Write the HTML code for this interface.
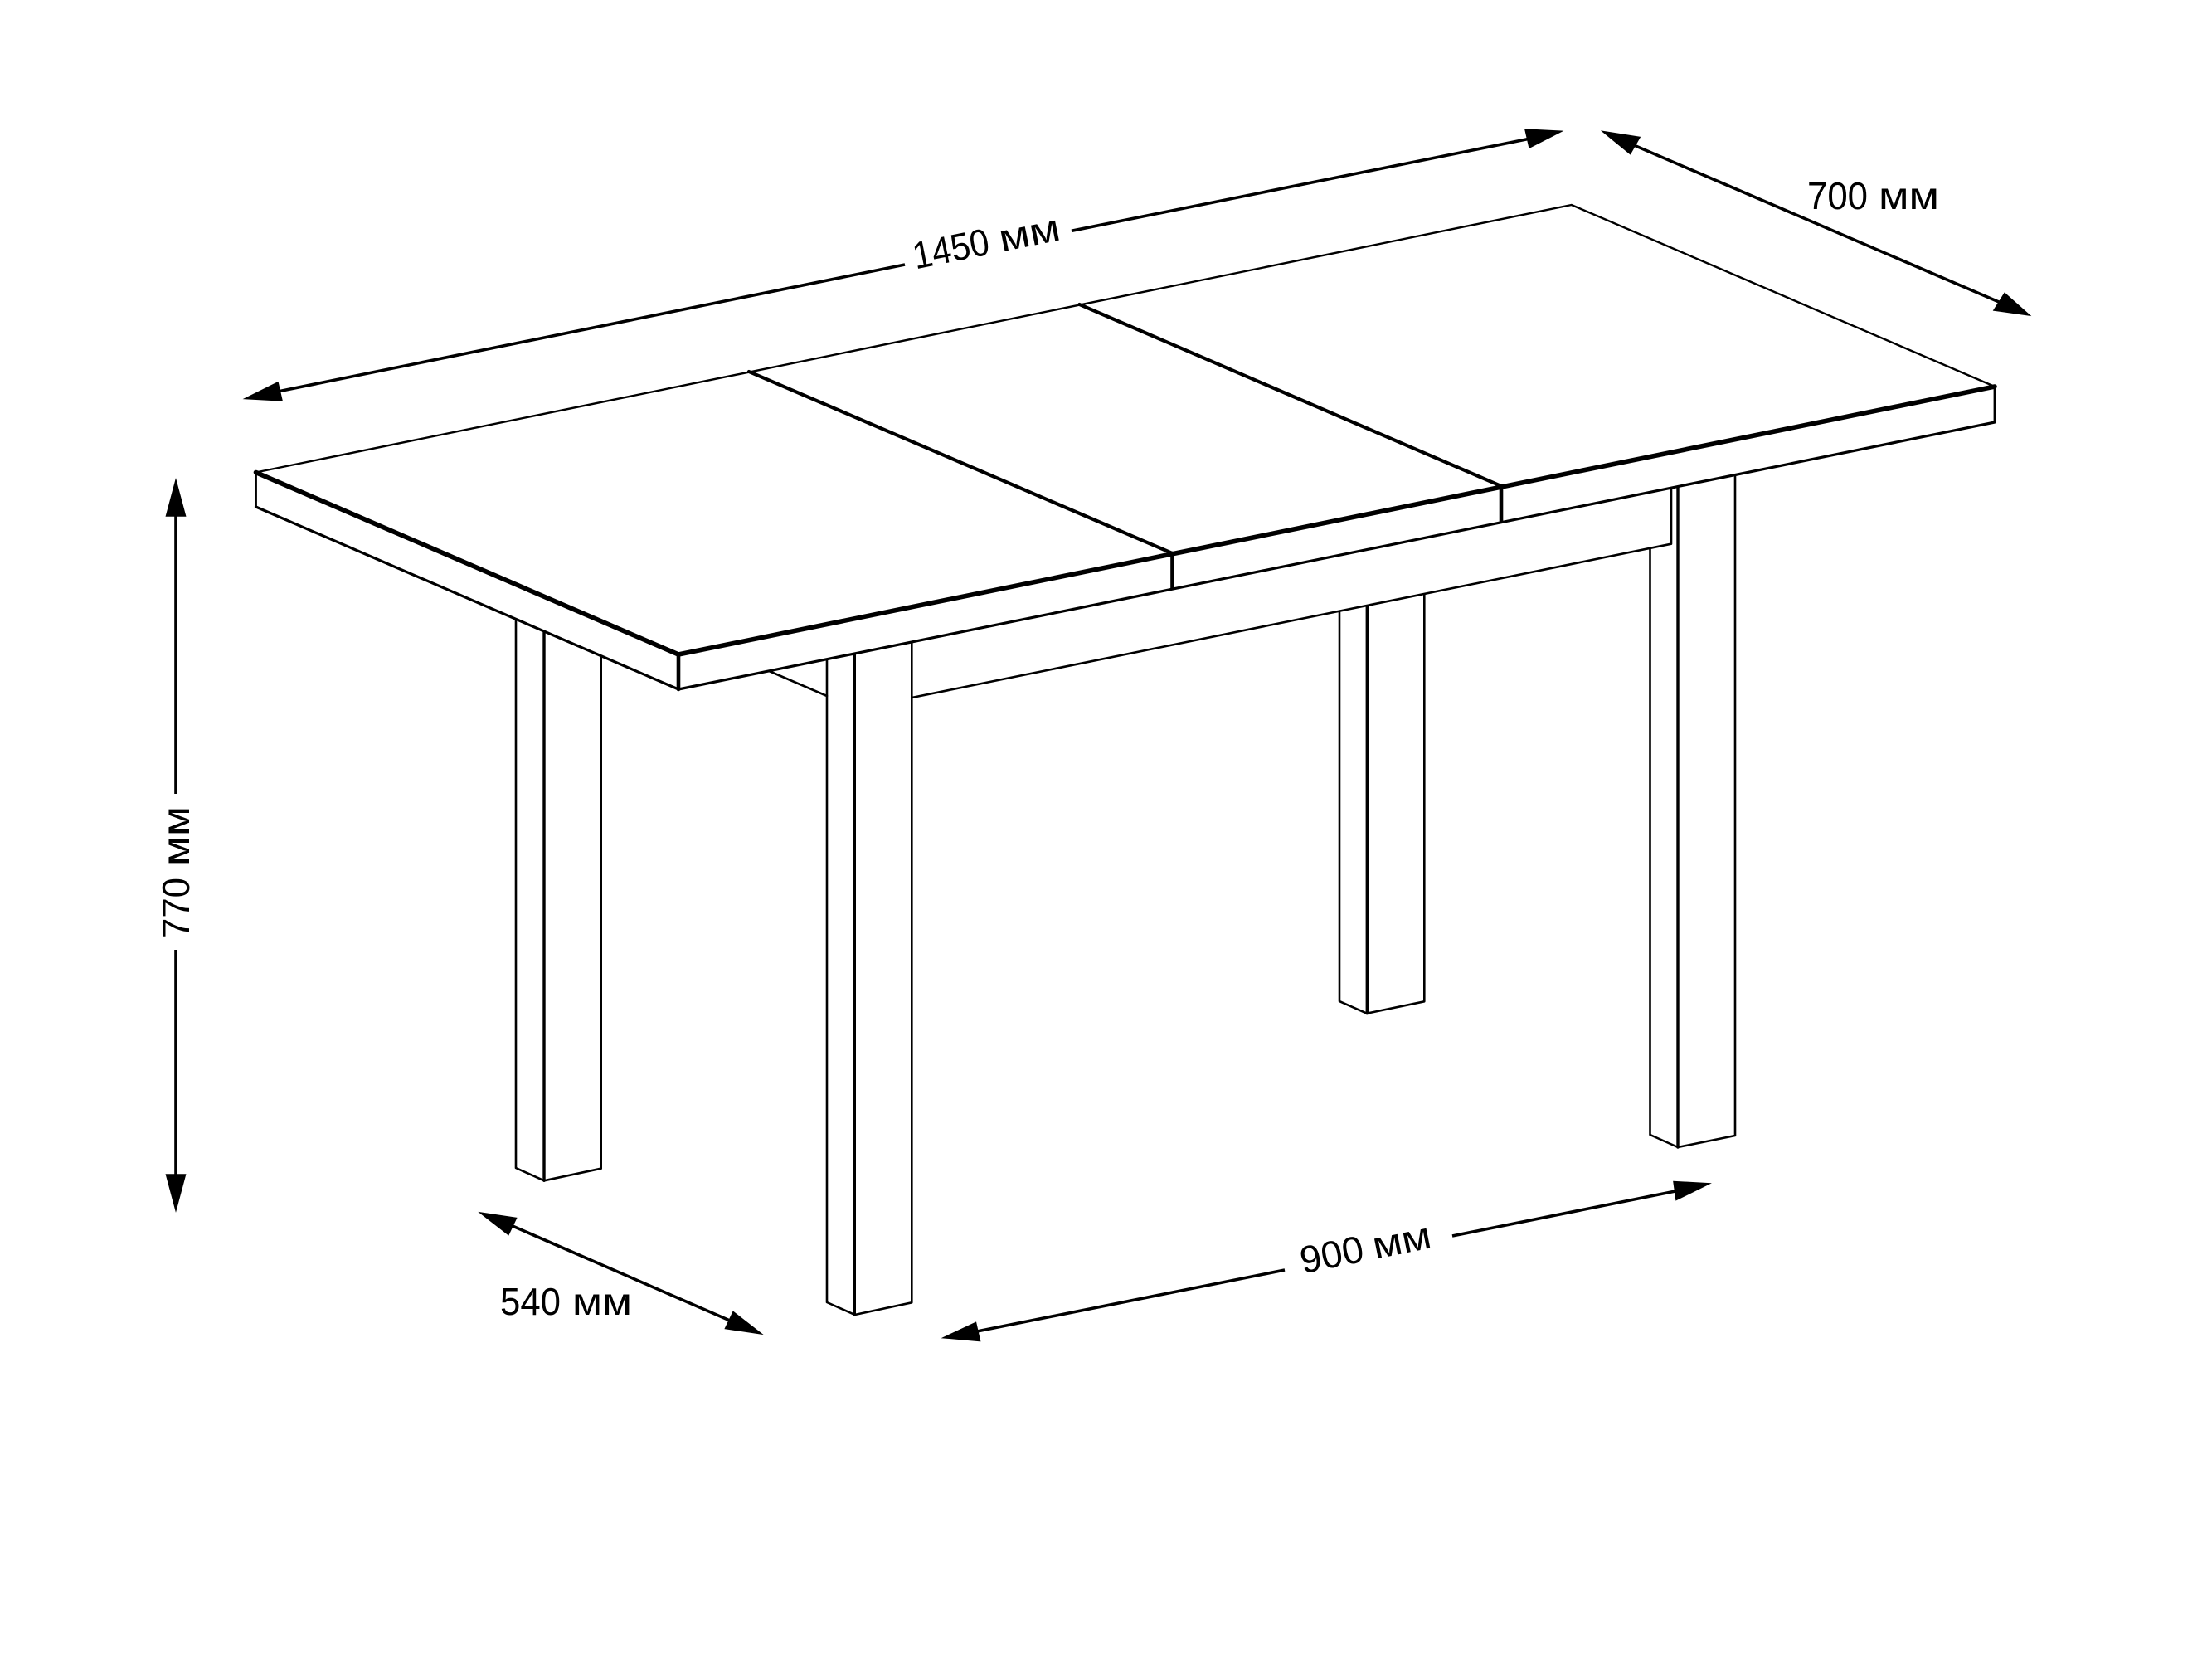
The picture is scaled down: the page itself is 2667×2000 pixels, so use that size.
<!DOCTYPE html>
<html><head><meta charset="utf-8"><style>html,body{margin:0;padding:0;background:#fff}svg{display:block}text{font-family:"Liberation Sans",sans-serif;font-size:46px;fill:#000}</style></head><body>
<svg xmlns="http://www.w3.org/2000/svg" width="2667" height="2000" viewBox="0 0 2667 2000">
<rect width="2667" height="2000" fill="#fff"/>
<g fill="none" stroke="#000" stroke-linecap="round" stroke-linejoin="round">
<!-- top outline -->
<path d="M308.5 569.5L1894.7 247L2405 466" stroke-width="2.4"/>
<!-- seams -->
<path d="M903 448L1413.5 667M1301.5 367L1810 586" stroke-width="4.2"/>
<!-- thick top-front edges -->
<path d="M308.5 569.5L818 789L2405 466" stroke-width="5.6"/>
<!-- edge verticals -->
<path d="M818 789V831M1413.5 667V709M1810 586V628.5" stroke-width="4.6"/>
<path d="M308.5 570V611M2405 466V509" stroke-width="2.8"/>
<!-- bottom of top -->
<path d="M308.5 611L818 831L2405 509" stroke-width="3.2"/>
<!-- apron -->
<path d="M2015 588.7V655.7L1099.5 841M927.3 809L997 839" stroke-width="2.6"/>
<!-- left leg -->
<path d="M622 746.6V1408L656 1423.3L724.7 1408.7V791.5" stroke-width="2.6"/>
<path d="M656 762.4V1423.3" stroke-width="3.4"/>
<!-- front leg -->
<path d="M997 796V1570L1030.6 1585L1099.3 1570.3V775.3" stroke-width="2.6"/>
<path d="M1030.3 789.6V1585" stroke-width="3.4"/>
<!-- back leg -->
<path d="M1615 737V1207L1648 1221.7L1717.3 1207.3V717" stroke-width="2.6"/>
<path d="M1648.3 730.8V1221.7" stroke-width="3.4"/>
<!-- right leg -->
<path d="M1989.5 662V1368L2023 1383L2092 1369V573" stroke-width="2.6"/>
<path d="M2023 587V1383" stroke-width="3.4"/>
<!-- dimension lines -->
<g stroke-width="3.6" stroke-linecap="butt">
<path d="M335 472L1091 319M1292 278.3L1845 167"/>
<path d="M1970 175L2410 364"/>
<path d="M212 620V957M212 1145V1418"/>
<path d="M618 1478L880 1592"/>
<path d="M1178 1605L1549 1531M1751 1490L2020 1436"/>
</g>
</g>
<g fill="#000" stroke="#000" stroke-width="1.5" stroke-linejoin="miter">
<polygon points="295.5,480.5 335,461 340,483"/>
<polygon points="1882.5,158.3 1839,156 1844,178"/>
<polygon points="1932.5,158.5 1977,165.5 1965.5,185.5"/>
<polygon points="2447,380 2417,353.5 2404,374"/>
<polygon points="212,579 200.5,622 223.5,622"/>
<polygon points="212,1459 200.5,1416 223.5,1416"/>
<polygon points="579,1462 622.5,1468.5 613,1488.5"/>
<polygon points="918,1608 884,1581.5 874.5,1601.5"/>
<polygon points="1137.5,1612.7 1176.5,1594.5 1181.5,1616.5"/>
<polygon points="2061,1426.9 2018,1424.5 2021,1446.5"/>
</g>
<g transform="translate(1104,324.5) rotate(-11.4)"><text x="0" y="0" textLength="93" lengthAdjust="spacingAndGlyphs">1450</text><text x="106" y="0" textLength="74" lengthAdjust="spacingAndGlyphs">мм</text></g>
<g transform="translate(2179,252)"><text x="0" y="0" textLength="73" lengthAdjust="spacingAndGlyphs">700</text><text x="86" y="0" textLength="73" lengthAdjust="spacingAndGlyphs">мм</text></g>
<g transform="translate(228,1131) rotate(-90)"><text x="0" y="0" textLength="73" lengthAdjust="spacingAndGlyphs">770</text><text x="87" y="0" textLength="72" lengthAdjust="spacingAndGlyphs">мм</text></g>
<g transform="translate(603,1585)"><text x="0" y="0" textLength="73" lengthAdjust="spacingAndGlyphs">540</text><text x="87" y="0" textLength="72" lengthAdjust="spacingAndGlyphs">мм</text></g>
<g transform="translate(1571,1535.5) rotate(-11.4)"><text x="0" y="0" textLength="77" lengthAdjust="spacingAndGlyphs">900</text><text x="89" y="0" textLength="71" lengthAdjust="spacingAndGlyphs">мм</text></g>
</svg>
</body></html>
